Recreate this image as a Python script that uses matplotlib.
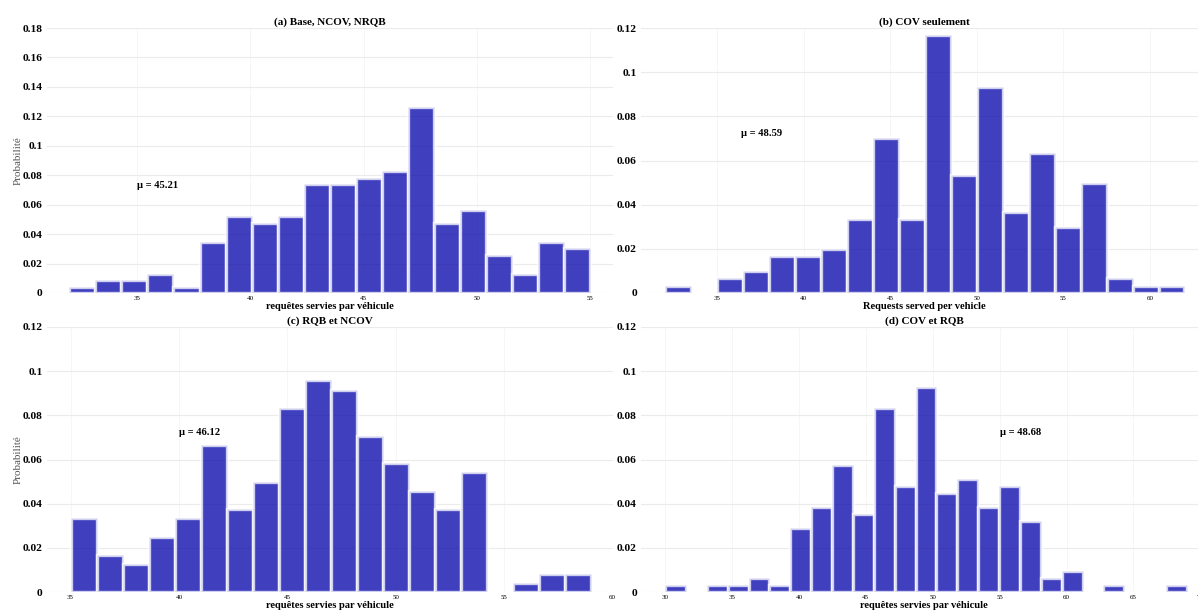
import matplotlib.pyplot as plt
from matplotlib.ticker import FuncFormatter, MultipleLocator

plt.rcParams['font.family'] = ['Liberation Serif', 'DejaVu Serif']

N_VEHICLES = 200

# requests served per vehicle: number of vehicles in each histogram bin
counts_a = [1, 2, 2, 3, 1, 8, 12, 11, 12, 17, 17, 18, 19, 29, 11, 13, 6, 3, 8, 7]
counts_b = [1, 0, 2, 3, 5, 5, 6, 10, 21, 10, 35, 16, 28, 11, 19, 9, 15, 2, 1, 1]
counts_c = [8, 4, 3, 6, 8, 16, 9, 12, 20, 23, 22, 17, 14, 11, 9, 13, 0, 1, 2, 2]
counts_d = [1, 0, 1, 1, 2, 1, 9, 12, 18, 11, 26, 15, 29, 14, 16, 12, 15, 10, 2, 3,
            0, 1, 0, 0, 1]

# min / max of the requests served (outer bin edges)
range_a = (32, 55)
range_b = (32, 62)
range_c = (35, 59)
range_d = (30, 69)

means = [45.21, 48.59, 46.12, 48.68]
titles = ['(a) Base, NCOV, NRQB', '(b) COV seulement',
          '(c) RQB et NCOV', '(d) COV et RQB']
xlabels = ['requêtes servies par véhicule', 'Requests served per vehicle',
           'requêtes servies par véhicule', 'requêtes servies par véhicule']

panels = [
    dict(counts=counts_a, rng=range_a, xlim=(31.0, 56.0), ymax=0.18, mu_x=35.0,
         pos=[46.7, 293], ylabel=True),
    dict(counts=counts_b, rng=range_b, xlim=(30.6, 63.3), ymax=0.12, mu_x=36.4,
         pos=[641, 293], ylabel=False),
    dict(counts=counts_c, rng=range_c, xlim=(33.9, 60.0), ymax=0.12, mu_x=40.0,
         pos=[46.7, 592], ylabel=True),
    dict(counts=counts_d, rng=range_d, xlim=(28.2, 70.5), ymax=0.12, mu_x=55.0,
         pos=[641, 592], ylabel=False),
]

W, H = 1198, 610
fig = plt.figure(figsize=(W / 100, H / 100), dpi=100)

for i, p in enumerate(panels):
    left, bottom = p['pos']
    ax = fig.add_axes([left / W, 1 - bottom / H, 566 / W, 265 / H])

    lo, hi = p['rng']
    nb = len(p['counts'])
    w = (hi - lo) / nb
    edges = [lo + k * w for k in range(nb)]
    probs = [c / (N_VEHICLES * w) for c in p['counts']]

    ax.bar(edges, probs, width=w, align='edge', color='#0000AA', alpha=0.75,
           edgecolor='white', linewidth=2.4, zorder=2)

    ax.set_xlim(*p['xlim'])
    ax.set_ylim(0, p['ymax'])
    ax.xaxis.set_major_locator(MultipleLocator(5))
    ax.yaxis.set_major_locator(MultipleLocator(0.02))
    ax.yaxis.set_major_formatter(FuncFormatter(lambda v, _: '%g' % round(v, 3)))

    # faint grid, the vertical lines barely show
    ax.grid(True, axis='y', color='#ebebeb', linewidth=0.8, zorder=0)
    ax.grid(True, axis='x', color='#f5f5f5', linewidth=0.6, zorder=0)
    ax.set_axisbelow(True)
    for s in ax.spines.values():
        s.set_visible(False)
    ax.tick_params(axis='both', length=0)
    ax.tick_params(axis='y', labelsize=8.2, pad=3)
    ax.tick_params(axis='x', labelsize=5, pad=2)
    for lab in ax.get_yticklabels():
        lab.set_fontweight('bold')

    ax.set_title(titles[i], fontsize=8, fontweight='bold', pad=2)
    ax.set_xlabel(xlabels[i], fontsize=7.6, fontweight='bold', labelpad=1)
    if p['ylabel']:
        ax.set_ylabel('Probabilité', fontsize=8, color='#555555')
        ax.yaxis.set_label_coords(-0.042, 0.5)

    ax.text(p['mu_x'], 0.07, 'μ = %.2f' % means[i], fontsize=7.6,
            fontweight='bold', ha='left', va='bottom')

fig.savefig('out.png', dpi=100)
